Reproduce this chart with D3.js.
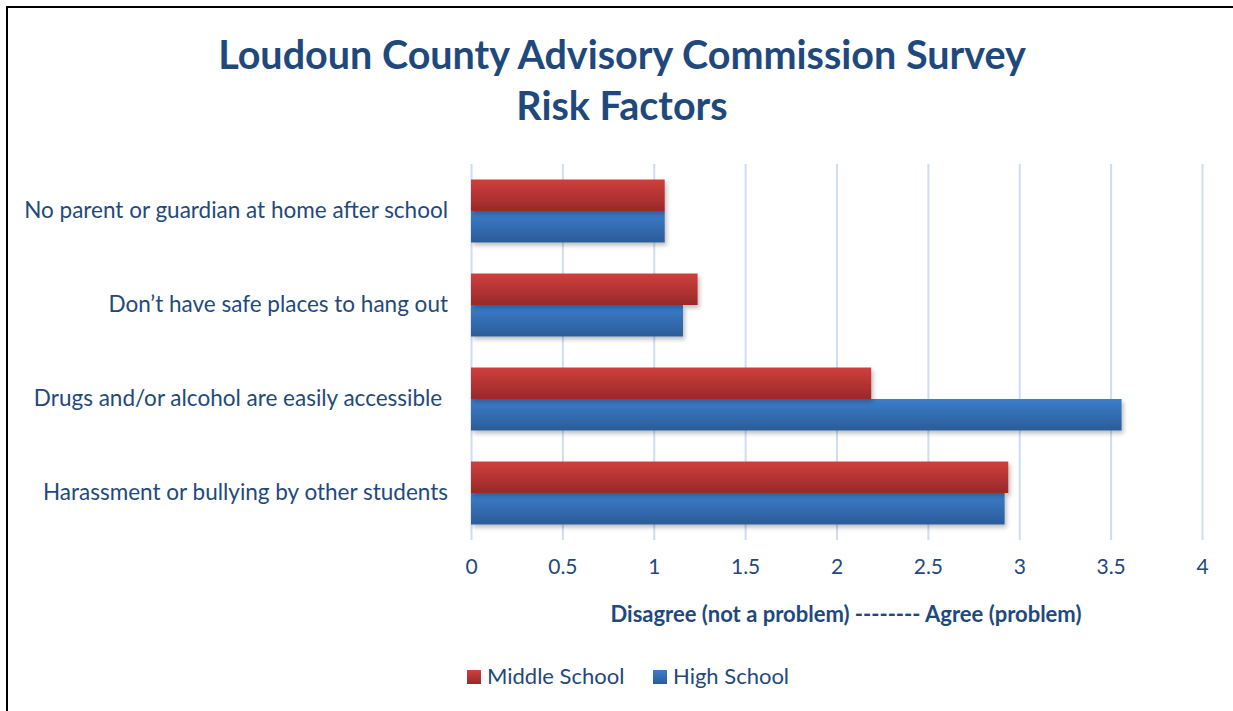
<!DOCTYPE html>
<html>
<head>
<meta charset="utf-8">
<script src="https://cdn.jsdelivr.net/npm/d3@7"></script>
<style>
  body { margin: 0; background: #fff; }
  svg text { font-family: Lato, "Open Sans", sans-serif; }
</style>
</head>
<body>
<div id="chart"></div>
<script>
// categories, top to bottom
const categories = [
  "No parent or guardian at home after school",
  "Don\u2019t have safe places to hang out",
  "Drugs and/or alcohol are easily accessible ",
  "Harassment or bullying by other students"
];
const seriesNames = ["Middle School", "High School"];
const middleSchool = [1.06, 1.24, 2.19, 2.94];
const highSchool = [1.06, 1.16, 3.56, 2.92];
const xTicks = [0, 0.5, 1, 1.5, 2, 2.5, 3, 3.5, 4];

const width = 1233;
const height = 711;
const textColor = "#1F497D";

const svg = d3.select("#chart").append("svg")
    .attr("width", width)
    .attr("height", height);

const defs = svg.append("defs");

// bar gradients (top to bottom)
const grads = [
  { id: "gradRed", top: "#D03F3C", bottom: "#98292A" },
  { id: "gradBlue", top: "#3C7DCC", bottom: "#2B5C98" }
];
grads.forEach(g => {
  const lg = defs.append("linearGradient")
      .attr("id", g.id)
      .attr("x1", 0).attr("y1", 0).attr("x2", 0).attr("y2", 1);
  lg.append("stop").attr("offset", "0%").attr("stop-color", g.top);
  lg.append("stop").attr("offset", "100%").attr("stop-color", g.bottom);
});

const shadow = defs.append("filter").attr("id", "shadow")
    .attr("x", "-5%").attr("y", "-20%").attr("width", "115%").attr("height", "160%");
shadow.append("feDropShadow")
    .attr("dx", 2).attr("dy", 3).attr("stdDeviation", 2)
    .attr("flood-color", "#000").attr("flood-opacity", 0.25);

// outer frame (runs off the right and bottom edges)
svg.append("rect")
    .attr("x", 7).attr("y", 7)
    .attr("width", width + 20).attr("height", height + 20)
    .attr("fill", "none")
    .attr("stroke", "#000")
    .attr("stroke-width", 2);

// title
const title = svg.append("text")
    .attr("text-anchor", "middle")
    .attr("fill", textColor)
    .attr("font-weight", "bold")
    .attr("font-size", 39.5);
title.append("tspan").attr("x", 622).attr("y", 69)
    .text("Loudoun County Advisory Commission Survey");
title.append("tspan").attr("x", 622).attr("y", 120)
    .text("Risk Factors");

const x = d3.scaleLinear()
    .domain([0, 4])
    .range([471, 1202]);

const y = d3.scaleBand()
    .domain(categories)
    .range([164, 540])
    .paddingInner(0.33)
    .paddingOuter(0.165);

const y1 = d3.scaleBand()
    .domain(seriesNames)
    .range([0, y.bandwidth()]);

// gridlines
svg.append("g")
    .attr("class", "gridlines")
    .attr("transform", "translate(0,540)")
    .call(d3.axisBottom(x).tickValues(xTicks).tickFormat("").tickSize(-376))
    .call(g => g.select(".domain").remove())
    .call(g => g.selectAll("line").attr("stroke", "#CEDDF1").attr("stroke-width", 2));

// x axis labels
svg.append("g")
    .attr("transform", "translate(0,540)")
    .call(d3.axisBottom(x).tickValues(xTicks).tickSize(0).tickPadding(19).tickFormat(d3.format("")))
    .call(g => g.select(".domain").remove())
    .call(g => g.selectAll("text")
        .attr("fill", textColor)
        .attr("font-size", 21)
        .style("font-family", "Lato, 'Open Sans', sans-serif"));

// y axis labels
svg.append("g")
    .attr("transform", "translate(448,0)")
    .call(d3.axisLeft(y).tickSize(0).tickPadding(0))
    .call(g => g.select(".domain").remove())
    .call(g => g.selectAll("text")
        .attr("fill", textColor)
        .attr("font-size", 22.5)
        .style("white-space", "pre")
        .style("font-family", "Lato, 'Open Sans', sans-serif"));

const rows = categories.map((c, i) => ({
  cat: c,
  values: [
    { series: seriesNames[0], value: middleSchool[i] },
    { series: seriesNames[1], value: highSchool[i] }
  ]
}));

const fills = { "Middle School": "url(#gradRed)", "High School": "url(#gradBlue)" };

// high school drawn first so the middle school bar sits above its shadow
const groups = svg.append("g").attr("class", "bars")
  .selectAll("g")
  .data(rows)
  .enter()
  .append("g")
  .attr("transform", d => `translate(0,${y(d.cat)})`);

groups.selectAll("rect")
  .data(d => d.values.slice().reverse())
  .enter()
  .append("rect")
  .attr("x", x(0))
  .attr("y", d => y1(d.series))
  .attr("width", d => x(d.value) - x(0))
  .attr("height", y1.bandwidth())
  .attr("fill", d => fills[d.series])
  .attr("filter", "url(#shadow)");

// x axis title
svg.append("text")
    .attr("x", 846).attr("y", 622)
    .attr("text-anchor", "middle")
    .attr("fill", textColor)
    .attr("font-weight", "bold")
    .attr("font-size", 22)
    .text("Disagree (not a problem) -------- Agree (problem)");

// legend
const legendItems = [
  { name: seriesNames[0], fill: "url(#gradRed)", x: 467 },
  { name: seriesNames[1], fill: "url(#gradBlue)", x: 653 }
];
const legend = svg.append("g").selectAll("g")
    .data(legendItems)
    .enter()
    .append("g")
    .attr("transform", d => `translate(${d.x},670)`);
legend.append("rect")
    .attr("width", 14).attr("height", 14)
    .attr("fill", d => d.fill);
legend.append("text")
    .attr("x", 20).attr("y", 14)
    .attr("fill", textColor)
    .attr("font-size", 22)
    .text(d => d.name);
</script>
</body>
</html>
